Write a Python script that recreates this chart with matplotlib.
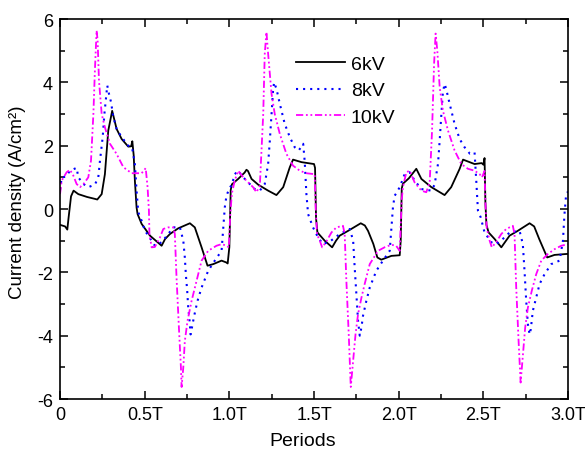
import matplotlib
matplotlib.use('Agg')
import matplotlib.pyplot as plt
from matplotlib.ticker import MultipleLocator

plt.rcParams['font.family'] = ['Liberation Sans', 'DejaVu Sans']
plt.rcParams['axes.unicode_minus'] = False

# 6kV (black solid)
t6 = [0, 0.03, 0.043, 0.05, 0.065, 0.08, 0.108, 0.16, 0.206, 0.22, 0.246, 0.265, 0.285,
      0.308, 0.334, 0.364, 0.403, 0.42, 0.427, 0.435, 0.442, 0.452, 0.458, 0.482, 0.531,
      0.6, 0.62, 0.649, 0.698, 0.767, 0.796, 0.836, 0.871, 0.905, 0.954, 0.983, 0.99,
      1.0, 1.008, 1.015, 1.052, 1.09, 1.101, 1.11, 1.131, 1.17, 1.229, 1.278, 1.318,
      1.357, 1.376, 1.426, 1.5, 1.506, 1.512, 1.52, 1.563, 1.607, 1.63, 1.652, 1.701,
      1.776, 1.8, 1.819, 1.85, 1.874, 1.897, 1.957, 2.006, 2.012, 2.018, 2.025, 2.06,
      2.104, 2.134, 2.193, 2.271, 2.31, 2.36, 2.38, 2.448, 2.49, 2.5, 2.507, 2.512,
      2.518, 2.531, 2.567, 2.606, 2.655, 2.7, 2.773, 2.8, 2.83, 2.877, 2.92, 2.99, 3.0]
y6 = [-0.5, -0.55, -0.65, -0.3, 0.4, 0.58, 0.47, 0.38, 0.32, 0.3, 0.47, 1.1, 2.48,
      3.1, 2.53, 2.21, 1.97, 1.98, 2.14, 1.7, 0.9, 0.05, -0.16, -0.47, -0.84,
      -1.16, -0.95, -0.79, -0.61, -0.45, -0.58, -1.21, -1.79, -1.74, -1.63, -1.69, -1.72,
      -1.2, 0.6, 0.78, 0.95, 1.15, 1.24, 1.2, 0.95, 0.77, 0.58, 0.44, 0.69,
      1.32, 1.56, 1.48, 1.42, 1.3, -0.3, -0.74, -1.0, -1.21, -1.0, -0.84, -0.69,
      -0.45, -0.52, -0.69, -1.1, -1.53, -1.6, -1.48, -1.46, -1.0, 0.65, 0.8, 0.97,
      1.27, 0.95, 0.69, 0.44, 0.69, 1.27, 1.56, 1.42, 1.45, 1.4, 1.61, 0.2,
      -0.5, -0.74, -0.95, -1.21, -0.84, -0.7, -0.45, -0.55, -0.95, -1.53, -1.45, -1.42, -1.42]

# 8kV (blue dotted)
t8 = [0, 0.01, 0.035, 0.059, 0.098, 0.108, 0.138, 0.167, 0.206, 0.226, 0.236, 0.252,
      0.262, 0.27, 0.279, 0.289, 0.301, 0.315, 0.334, 0.364, 0.403, 0.425, 0.442, 0.452,
      0.462, 0.482, 0.501, 0.541, 0.56, 0.6, 0.639, 0.669, 0.708, 0.728, 0.737, 0.743,
      0.751, 0.757, 0.765, 0.771, 0.777, 0.792, 0.812, 0.836, 0.875, 0.914, 0.954, 0.964,
      0.973, 0.983, 1.003, 1.013, 1.032, 1.052, 1.082, 1.111, 1.15, 1.18, 1.209, 1.229,
      1.239, 1.249, 1.258, 1.264, 1.278, 1.298, 1.327, 1.357, 1.386, 1.41, 1.436, 1.445,
      1.455, 1.465, 1.494, 1.524, 1.553, 1.6, 1.652, 1.711, 1.731, 1.74, 1.75, 1.76,
      1.77, 1.78, 1.789, 1.809, 1.829, 1.868, 1.907, 1.947, 1.957, 1.966, 1.976, 1.986,
      2.006, 2.035, 2.065, 2.094, 2.134, 2.193, 2.212, 2.232, 2.242, 2.252, 2.261, 2.271,
      2.28, 2.301, 2.33, 2.36, 2.389, 2.42, 2.448, 2.458, 2.468, 2.484, 2.507, 2.547,
      2.576, 2.625, 2.655, 2.714, 2.733, 2.743, 2.753, 2.763, 2.773, 2.78, 2.792, 2.812,
      2.832, 2.861, 2.901, 2.95, 2.97, 2.979, 2.989, 3.0]
y8 = [0.6, 1.0, 1.02, 1.21, 1.3, 1.0, 0.79, 0.69, 0.77, 1.0, 1.53, 2.27,
      3.0, 3.43, 3.9, 3.64, 3.38, 2.9, 2.53, 2.27, 2.0, 1.95, 1.42, 0.58,
      -0.1, -0.37, -0.68, -1.0, -1.16, -1.05, -0.79, -0.58, -0.58, -1.0, -1.53, -2.06,
      -2.58, -3.11, -3.53, -3.96, -3.8, -3.38, -2.9, -2.48, -1.95, -1.63, -1.32, -0.58,
      0.05, 0.42, 0.69, 0.74, 1.1, 1.21, 1.0, 0.84, 0.63, 0.58, 0.79, 1.42,
      2.16, 3.0, 3.74, 4.0, 3.8, 3.32, 2.69, 2.27, 1.95, 1.85, 2.06, 1.5,
      0.47, -0.16, -0.58, -0.9, -1.11, -1.0, -0.79, -0.63, -1.0, -1.84, -2.69, -3.53,
      -4.0, -3.74, -3.38, -2.9, -2.48, -1.95, -1.63, -1.32, -0.58, 0.05, 0.42, 0.5,
      0.69, 1.1, 1.16, 0.9, 0.63, 0.58, 0.77, 1.42, 2.16, 3.0, 3.69, 3.95,
      3.8, 3.32, 2.69, 2.21, 1.95, 1.75, 1.79, 0.9, -0.05, -0.26, -0.74, -1.05,
      -1.11, -0.9, -0.74, -0.69, -1.11, -1.95, -2.9, -3.64, -3.96, -3.8, -3.22, -2.8,
      -2.37, -2.06, -1.74, -1.63, -1.0, -0.16, 0.47, 0.55]

# 10kV (magenta dash-dot-dot)
t10 = [0, 0.01, 0.039, 0.059, 0.079, 0.098, 0.118, 0.14, 0.167, 0.183, 0.197, 0.206,
       0.216, 0.222, 0.23, 0.246, 0.265, 0.295, 0.334, 0.374, 0.423, 0.482, 0.506, 0.517,
       0.525, 0.528, 0.541, 0.56, 0.59, 0.61, 0.639, 0.669, 0.678, 0.688, 0.702, 0.714,
       0.718, 0.728, 0.737, 0.753, 0.777, 0.806, 0.836, 0.875, 0.924, 0.954, 0.98, 0.997,
       1.005, 1.015, 1.032, 1.052, 1.082, 1.111, 1.14, 1.16, 1.18, 1.2, 1.209, 1.219,
       1.229, 1.249, 1.268, 1.298, 1.337, 1.376, 1.416, 1.455, 1.504, 1.51, 1.518, 1.534,
       1.548, 1.57, 1.603, 1.632, 1.671, 1.681, 1.691, 1.705, 1.717, 1.731, 1.745, 1.76,
       1.78, 1.799, 1.829, 1.878, 1.92, 1.957, 1.985, 2.006, 2.012, 2.018, 2.025, 2.045,
       2.065, 2.094, 2.134, 2.163, 2.183, 2.197, 2.209, 2.218, 2.228, 2.242, 2.261, 2.291,
       2.33, 2.37, 2.409, 2.448, 2.478, 2.492, 2.507, 2.512, 2.52, 2.537, 2.55, 2.575,
       2.606, 2.635, 2.674, 2.684, 2.694, 2.708, 2.72, 2.734, 2.747, 2.763, 2.786, 2.812,
       2.842, 2.881, 2.92, 2.96, 3.0]
y10 = [0.47, 0.9, 1.16, 1.24, 1.05, 0.79, 0.69, 0.8, 1.0, 1.53, 3.0, 4.38,
       5.64, 5.33, 4.06, 3.0, 2.58, 2.06, 1.74, 1.32, 1.13, 1.13, 1.29, 0.69,
       -0.05, -0.79, -1.21, -1.2, -0.9, -0.63, -0.58, -0.58, -0.79, -2.16, -3.74, -5.01,
       -5.62, -5.0, -4.17, -3.53, -2.9, -2.27, -1.63, -1.32, -1.16, -1.11, -1.15, -1.21,
       -0.2, 0.5, 0.9, 1.21, 1.0, 0.84, 0.69, 0.53, 0.74, 3.0, 4.9, 5.59,
       4.9, 3.64, 3.0, 2.37, 1.74, 1.37, 1.21, 1.13, 1.1, 0.0, -0.8, -1.0,
       -1.21, -1.05, -0.74, -0.58, -0.53, -0.79, -2.27, -3.96, -5.62, -4.8, -3.96, -3.32,
       -2.8, -2.37, -1.74, -1.32, -1.2, -1.13, -1.16, -1.32, -0.5, 0.3, 0.69, 1.16,
       1.21, 0.84, 0.58, 0.53, 0.84, 2.48, 4.59, 5.54, 5.0, 3.85, 3.11, 2.48,
       1.85, 1.42, 1.27, 1.21, 1.1, 1.0, 1.2, 0.2, -0.6, -1.0, -1.21, -1.05,
       -0.79, -0.63, -0.53, -0.79, -2.48, -4.17, -5.48, -4.59, -3.74, -3.11, -2.58, -2.06,
       -1.63, -1.42, -1.27, -1.16, -1.11]

xticks = [0, 0.5, 1.0, 1.5, 2.0, 2.5, 3.0]
xtick_labels = ['0', '0.5T', '1.0T', '1.5T', '2.0T', '2.5T', '3.0T']

fig = plt.figure(figsize=(5.85, 4.56), dpi=100)
ax = fig.add_axes([0.1026, 0.1228, 0.8684, 0.8333])

ax.plot(t6, y6, color='black', linewidth=1.3, label='6kV')
ax.plot(t8, y8, color='#0000ff', linewidth=1.5, dashes=(1, 2.4), label='8kV')
ax.plot(t10, y10, color='#ff00ff', linewidth=1.3,
        dashes=(4, 1.5, 1, 1.5, 1, 1.5), label='10kV')

ax.set_xlim(0, 3.0)
ax.set_ylim(-6, 6)
ax.set_xticks(xticks)
ax.set_xticklabels(xtick_labels)
ax.xaxis.set_minor_locator(MultipleLocator(0.25))
ax.yaxis.set_major_locator(MultipleLocator(2))
ax.yaxis.set_minor_locator(MultipleLocator(1))
ax.tick_params(which='both', direction='in', top=True, right=True, labelsize=13, pad=5)
ax.tick_params(which='major', length=6, width=1.1)
ax.tick_params(which='minor', length=3.5, width=1.1)
for s in ax.spines.values():
    s.set_linewidth(1.2)

ax.set_xlabel('Periods', fontsize=14)
ax.set_ylabel('Current density (A/cm²)', fontsize=13.5)
ax.xaxis.set_label_coords(0.477, -0.087)
ax.yaxis.set_label_coords(-0.066, 0.521)

ax.legend(loc='upper left', bbox_to_anchor=(0.431, 0.95), frameon=False,
          fontsize=14, handlelength=2.5, handletextpad=0.3, labelspacing=0.45)

fig.savefig('out.png', dpi=100)
